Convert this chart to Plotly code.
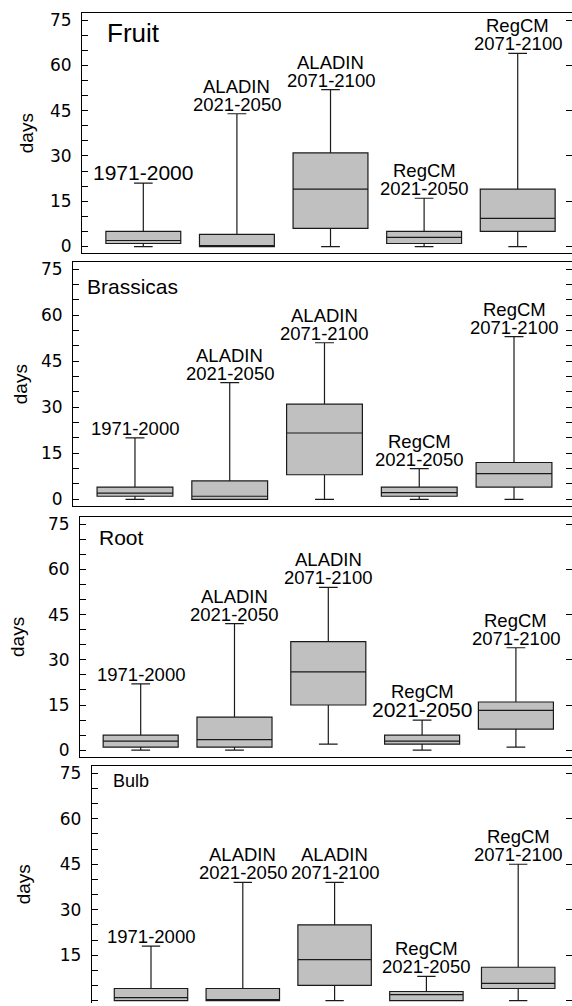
import plotly.graph_objects as go

# ---------------- data ----------------
positions = [0, 1, 2, 3, 4]
models = ["", "ALADIN", "ALADIN", "RegCM", "RegCM"]
periods = ["1971-2000", "2021-2050", "2071-2100", "2021-2050", "2071-2100"]
crops = ["Fruit", "Brassicas", "Root", "Bulb"]
y_ticks = [0, 15, 30, 45, 60, 75]

fruit_low = [0, 0, 0, 0, 0]
fruit_q1 = [1, 0, 6, 1, 5]
fruit_med = [2, 0.3, 19, 3, 9.3]
fruit_q3 = [5, 4, 31, 5, 19]
fruit_high = [21, 44, 52, 16, 64]

bras_low = [0, 0, 0, 0, 0]
bras_q1 = [1, 0, 8, 1, 4]
bras_med = [2, 1, 21.6, 2.2, 8.4]
bras_q3 = [4, 6, 31, 4, 12]
bras_high = [20, 38, 51, 10, 53]

root_low = [0, 0, 2, 0, 1]
root_q1 = [1, 1, 15, 2, 7]
root_med = [3, 3.5, 26, 3, 13.2]
root_q3 = [5, 11, 36, 5, 16]
root_high = [22, 42, 54, 10, 34]

bulb_low = [0, 0, 0, 0, 0]
bulb_q1 = [0, 0, 5, 0, 4]
bulb_med = [1, 0, 13.5, 2, 5.7]
bulb_q3 = [4, 4, 25, 3, 11]
bulb_high = [18, 39, 39, 8, 45]

stats = [
    (fruit_low, fruit_q1, fruit_med, fruit_q3, fruit_high),
    (bras_low, bras_q1, bras_med, bras_q3, bras_high),
    (root_low, root_q1, root_med, root_q3, root_high),
    (bulb_low, bulb_q1, bulb_med, bulb_q3, bulb_high),
]

# ---------------- layout geometry (pixels) ----------------
W, H = 572, 1006
panels = [
    dict(left=82, top=10, bottom=252, yr=[-2.31, 77.40], xr=[-0.655, 4.580],
         tsize=26, tx=105, ty=13, daysx=26, minor_right=False),
    dict(left=73, top=261, bottom=506, yr=[-2.17, 77.17], xr=[-0.654, 4.612],
         tsize=21, tx=85, ty=272, daysx=20, minor_right=True),
    dict(left=80, top=517.3, bottom=758.3, yr=[-2.18, 77.31], xr=[-0.647, 4.598],
         tsize=21, tx=97, ty=524, daysx=18, minor_right=False),
    dict(left=91.7, top=767.3, bottom=1006, yr=[-0.79, 77.52], xr=[-0.646, 4.586],
         tsize=18, tx=111, ty=770.5, daysx=23, minor_right=False),
]

FONT = "Liberation Sans, Arial, sans-serif"
fig = go.Figure()
layout = dict(width=W, height=H, margin=dict(l=0, r=0, t=0, b=0),
              paper_bgcolor="white", plot_bgcolor="white", showlegend=False)
annotations = []

big_label = {(0, 0), (2, 3)}  # (panel, box) whose period label is larger

for i, p in enumerate(panels):
    n = i + 1
    xa = "x" if n == 1 else f"x{n}"
    ya = "y" if n == 1 else f"y{n}"
    yr_name = f"y{n + 4}"
    dom_x = [p["left"] / W, 1.0]
    dom_y = [max(0.0, 1 - p["bottom"] / H), 1 - p["top"] / H]
    low, q1, med, q3, high = stats[i]

    fig.add_trace(go.Box(
        x=positions, q1=q1, median=med, q3=q3, lowerfence=low, upperfence=high,
        xaxis=xa, yaxis=ya, width=0.8, whiskerwidth=0.25,
        fillcolor="#c0c0c0", line=dict(color="#1a1a1a", width=1.2),
        boxpoints=False, hoverinfo="skip", showlegend=False))
    fig.add_trace(go.Scatter(x=[None], y=[None], xaxis=xa, yaxis=yr_name,
                             showlegend=False, hoverinfo="skip"))

    last = (n == 4)
    layout[f"xaxis{'' if n == 1 else n}"] = dict(
        domain=dom_x, anchor=ya, range=p["xr"], showticklabels=False,
        ticks="", showgrid=False, zeroline=False, showline=True,
        linecolor="black", linewidth=1,
        mirror=(not last), side=("top" if last else "bottom"))
    layout[f"yaxis{'' if n == 1 else n}"] = dict(
        domain=dom_y, anchor=xa, range=p["yr"], tickvals=y_ticks,
        ticks="inside", ticklen=6, tickcolor="black", tickwidth=1,
        minor=dict(dtick=5, tick0=0, ticks="inside", ticklen=6,
                   tickcolor="black", tickwidth=1, showgrid=False),
        showgrid=False, zeroline=False, showline=True, linecolor="black",
        linewidth=1, mirror=False, ticklabelstandoff=6,
        tickfont=dict(family="DejaVu Sans", size=17, color="black"))
    right = dict(
        overlaying=ya, anchor=xa, side="right", range=p["yr"],
        tickvals=y_ticks, ticks="inside", ticklen=6, tickcolor="black",
        showticklabels=False, showgrid=False, zeroline=False, showline=False)
    if p["minor_right"]:
        right["minor"] = dict(dtick=5, tick0=0, ticks="inside", ticklen=6,
                              tickcolor="black", showgrid=False)
    layout[f"yaxis{n + 4}"] = right

    annotations.append(dict(
        text=crops[i], xref="paper", yref="paper", x=p["tx"] / W,
        y=1 - p["ty"] / H, xanchor="left", yanchor="top", showarrow=False,
        font=dict(family=FONT, size=p["tsize"], color="black")))
    annotations.append(dict(
        text="days", xref="paper", yref="paper", x=p["daysx"] / W,
        y=1 - ((p["top"] + min(p["bottom"], 1010)) / 2) / H,
        xanchor="center", yanchor="middle", textangle=-90, showarrow=False,
        font=dict(family=FONT, size=19, color="black")))
    for j in positions:
        psize = 21 if (i, j) in big_label else 18.5
        annotations.append(dict(
            text=periods[j], xref=xa, yref=ya, x=j, y=high[j],
            xanchor="center", yanchor="bottom", yshift=-2, showarrow=False,
            borderpad=0, font=dict(family=FONT, size=psize, color="black")))
        if models[j]:
            annotations.append(dict(
                text=models[j], xref=xa, yref=ya, x=j, y=high[j],
                xanchor="center", yanchor="bottom",
                yshift=-2 + (19.5 if psize > 19 else 18), showarrow=False,
                borderpad=0, font=dict(family=FONT, size=18.5, color="black")))

layout["annotations"] = annotations
fig.update_layout(**layout)
fig.write_html(
    "out.html",
    config={"displayModeBar": False, "staticPlot": True},
    post_script="document.body.style.margin='0';"
                "document.body.style.overflow='hidden';")
